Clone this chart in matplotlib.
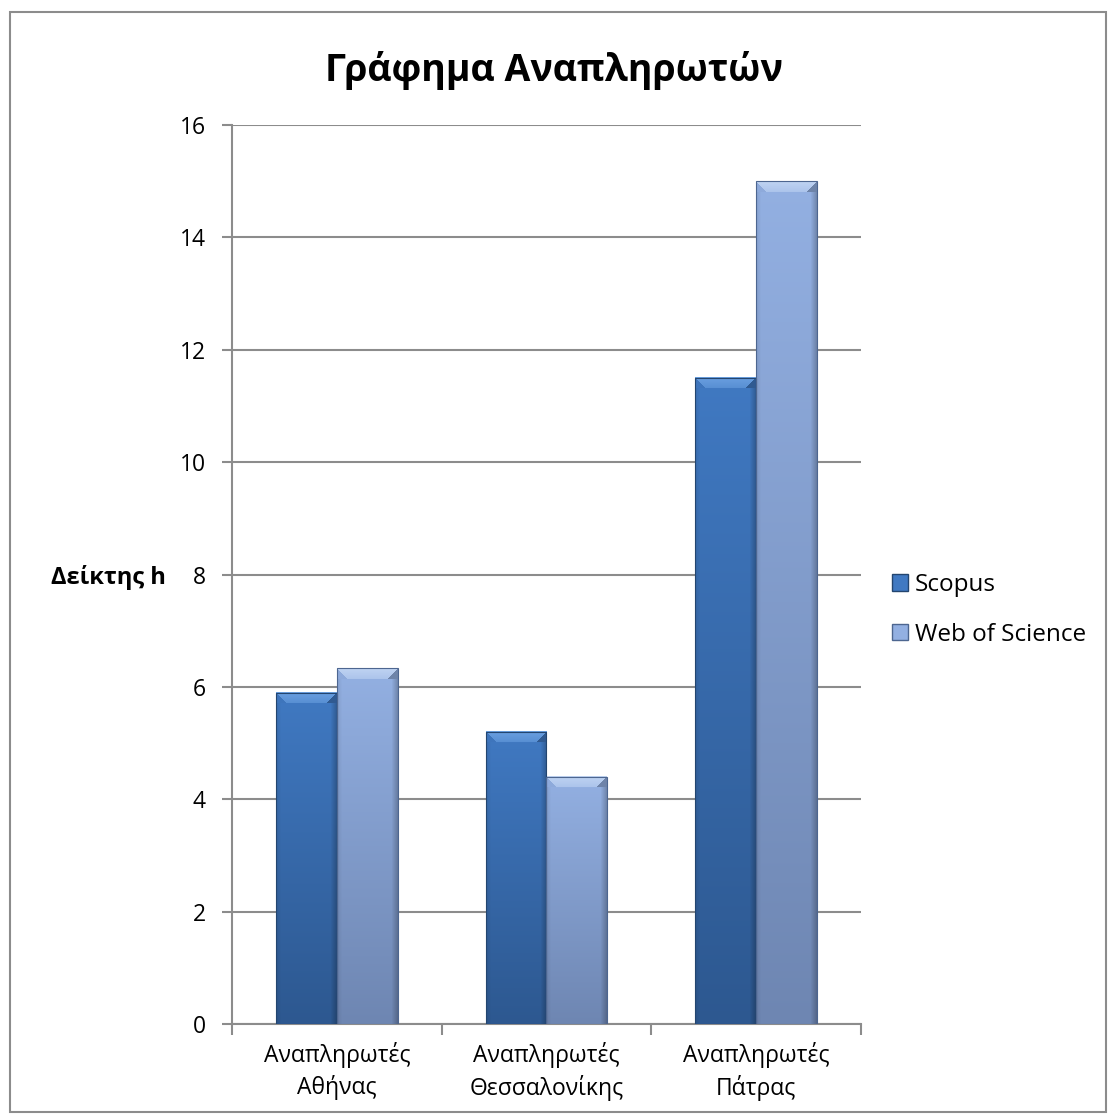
import matplotlib
matplotlib.use("Agg")
import matplotlib.pyplot as plt
import numpy as np
from matplotlib.patches import Patch, Rectangle
from matplotlib.colors import to_rgb

plt.rcParams["font.family"] = ["Open Sans", "DejaVu Sans"]

# Data
categories = ["Αναπληρωτές\nΑθήνας", "Αναπληρωτές\nΘεσσαλονίκης", "Αναπληρωτές\nΠάτρας"]
scopus = [5.9, 5.2, 11.5]
web_of_science = [6.33, 4.4, 15.0]
series_names = ["Scopus", "Web of Science"]
y_ticks = [0, 2, 4, 6, 8, 10, 12, 14, 16]

# colours: top, bottom, bevel, edge
styles = {
    "Scopus": ("#4079c2", "#2d5890", "#6a9fe0", "#23456f"),
    "Web of Science": ("#93b0e2", "#6e86b2", "#bfd3f2", "#4d6690"),
}

fig = plt.figure(figsize=(11.08, 11.15), dpi=100)
ax = fig.add_axes([0.2094, 0.0816, 0.777 - 0.2094, 0.8879 - 0.0816])

# outer chart border
fig.patches.append(Rectangle((0.009, 0.003), 0.989, 0.986, transform=fig.transFigure,
                             fill=False, edgecolor="#8c8c8c", linewidth=1.5))

x = np.arange(len(categories))
width = 0.29
bars_s = ax.bar(x - width / 2, scopus, width, color=styles["Scopus"][0], zorder=2)
bars_w = ax.bar(x + width / 2, web_of_science, width, color=styles["Web of Science"][0], zorder=2)


def shaded_bar(patch, top, bottom, bevel, edge, px_per_unit=56.2, px_w=61):
    # paint a bevelled gradient over a bar patch
    x0, y0 = patch.get_xy()
    w, h = patch.get_width(), patch.get_height()
    rows = max(int(round(h * px_per_unit)), 2)
    cols = px_w
    t = np.linspace(0, 1, rows)[:, None, None]
    top, bottom, bevel = np.array(to_rgb(top)), np.array(to_rgb(bottom)), np.array(to_rgb(bevel))
    img = top * (1 - t) + bottom * t
    img = np.repeat(img, cols, axis=1)
    xs = np.linspace(0, 1, cols)
    shade = 1 - 0.22 * np.clip((xs - 0.9) / 0.1, 0, 1) - 0.08 * np.clip((0.08 - xs) / 0.08, 0, 1)
    img = img * shade[None, :, None]
    bev = 11
    for r in range(min(bev, rows)):
        frac = r / bev
        img[r, r:cols - r] = bevel * (1 - 0.45 * frac) + top * 0.45 * frac
        img[r, :r] = top * 0.97
        img[r, cols - r:] = top * 0.75
    ax.imshow(np.clip(img, 0, 1), extent=(x0, x0 + w, y0, y0 + h), aspect="auto",
              origin="upper", zorder=3, interpolation="bilinear")
    ax.add_patch(Rectangle((x0, y0), w, h, fill=False, edgecolor=edge, linewidth=0.8, zorder=4))


for b in bars_s:
    shaded_bar(b, *styles["Scopus"])
for b in bars_w:
    shaded_bar(b, *styles["Web of Science"])

ax.set_xlim(-0.5, len(categories) - 0.5)
ax.set_ylim(0, 16)
ax.set_yticks(y_ticks)
ax.set_yticklabels([str(v) for v in y_ticks], fontsize=16.5)
ax.set_xticks(x)
ax.set_xticklabels(categories, fontsize=16.5, linespacing=1.35)
ax.tick_params(axis="x", length=0, pad=13)
ax.tick_params(axis="y", length=7, color="#8c8c8c", width=1.5, pad=12)
# category separator ticks
ax.set_xticks(np.arange(len(categories) + 1) - 0.5, minor=True)
ax.tick_params(axis="x", which="minor", length=8, color="#8c8c8c", width=1.5)

ax.grid(axis="y", color="#8c8c8c", linewidth=1.5, zorder=0)
ax.set_axisbelow(True)
for s in ["top", "right"]:
    ax.spines[s].set_visible(False)
for s in ["left", "bottom"]:
    ax.spines[s].set_color("#8c8c8c")
    ax.spines[s].set_linewidth(1.5)

ax.set_ylabel("Δείκτης h", fontsize=17, fontweight="bold", rotation=0,
              va="center", ha="right")
ax.yaxis.set_label_coords(-0.105, 0.497)

fig.text(0.5, 0.937, "Γράφημα Αναπληρωτών", ha="center", va="center",
         fontsize=27, fontweight="bold")

handles = [Patch(facecolor=styles[n][0], edgecolor=styles[n][3]) for n in series_names]
fig.legend(handles, series_names, loc="center left", bbox_to_anchor=(0.805, 0.453),
           frameon=False, fontsize=17.5, handlelength=0.65, handleheight=0.65,
           handletextpad=0.3, labelspacing=1.05, borderaxespad=0, borderpad=0)

fig.savefig("out.png", dpi=100)
